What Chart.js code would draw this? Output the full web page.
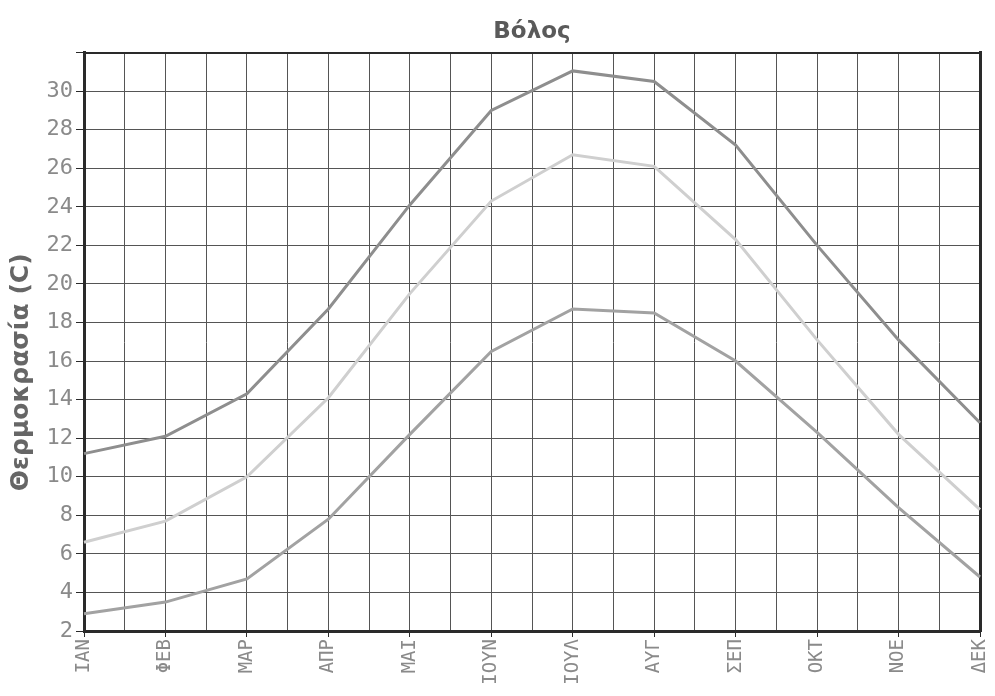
<!DOCTYPE html>
<html>
<head>
<meta charset="utf-8">
<script src="https://cdn.jsdelivr.net/npm/chart.js@4"></script>
<style>
  html, body { margin: 0; padding: 0; background: #ffffff; }
  #wrap { width: 995px; height: 696px; position: relative; }
</style>
</head>
<body>
<div id="wrap"><canvas id="c"></canvas></div>
<script>
const months = ["ΙΑΝ", "ΦΕΒ", "ΜΑΡ", "ΑΠΡ", "ΜΑΙ", "ΙΟΥΝ", "ΙΟΥΛ", "ΑΥΓ", "ΣΕΠ", "ΟΚΤ", "ΝΟΕ", "ΔΕΚ"];
const maxTemp  = [11.2, 12.1, 14.3, 18.7, 24.1, 29.0, 31.05, 30.5, 27.2, 22.0, 17.1, 12.8];
const meanTemp = [6.6, 7.7, 10.0, 14.1, 19.5, 24.3, 26.7, 26.1, 22.3, 17.1, 12.2, 8.3];
const minTemp  = [2.9, 3.5, 4.7, 7.8, 12.2, 16.5, 18.7, 18.5, 16.0, 12.3, 8.4, 4.8];
const titleText = "Βόλος";
const yTitle = "Θερμοκρασία (C)";

const gridColor = "#555555";
const axisColor = "#2a2a2a";
const tickColor = "#8a8a8a";

new Chart(document.getElementById("c"), {
  type: "line",
  data: {
    labels: months,
    datasets: [
      { label: "max", data: maxTemp, borderColor: "#8e8e8e", borderWidth: 3, pointRadius: 0, tension: 0, fill: false },
      { label: "mean", data: meanTemp, borderColor: "#cfcfcf", borderWidth: 3, pointRadius: 0, tension: 0, fill: false },
      { label: "min", data: minTemp, borderColor: "#a2a2a2", borderWidth: 3, pointRadius: 0, tension: 0, fill: false }
    ]
  },
  options: {
    responsive: true,
    maintainAspectRatio: false,
    animation: false,
    layout: { padding: { left: 0, right: 0, top: 0, bottom: 0 } },
    plugins: {
      legend: { display: false },
      tooltip: { enabled: false },
      title: {
        display: true,
        fullSize: false,
        text: titleText,
        color: "#5a5a5a",
        font: { family: "DejaVu Sans", size: 23, weight: "bold" },
        padding: { top: 18, bottom: 7 }
      }
    },
    scales: {
      x: {
        type: "category",
        position: "bottom",
        offset: false,
        grid: { display: true, color: gridColor, lineWidth: 1, drawOnChartArea: true, drawTicks: true, tickLength: 6, tickColor: axisColor },
        border: { display: true, color: axisColor, width: 3 },
        ticks: {
          color: tickColor,
          minRotation: 90,
          maxRotation: 90,
          autoSkip: false,
          padding: 2,
          font: { family: "DejaVu Sans Mono", size: 19 }
        },
        afterFit: (s) => { s.height = 65; s.paddingLeft = 0; s.paddingRight = 0; }
      },
      xh: {
        type: "linear",
        position: "top",
        min: 0,
        max: 22,
        grid: { display: true, color: gridColor, lineWidth: 1, drawTicks: false },
        border: { display: true, color: axisColor, width: 2 },
        ticks: { display: false, stepSize: 1 },
        afterFit: (s) => { s.height = 0; s.paddingLeft = 0; s.paddingRight = 0; }
      },
      y: {
        type: "linear",
        position: "left",
        min: 2,
        max: 32,
        grid: { display: true, color: gridColor, lineWidth: 1, drawTicks: true, tickLength: 8, tickColor: axisColor },
        border: { display: true, color: axisColor, width: 3 },
        ticks: {
          stepSize: 2,
          color: tickColor,
          padding: 3,
          font: { family: "DejaVu Sans Mono", size: 22 },
          callback: (v) => (v === 32 ? "" : String(v))
        },
        title: {
          display: true,
          text: yTitle + "\u00a0\u00a0\u00a0\u00a0\u00a0\u00a0\u00a0",
          color: "#666666",
          font: { family: "DejaVu Sans", size: 25, weight: "bold" },
          padding: { top: 6, bottom: 0 }
        },
        afterFit: (s) => { s.width = 84; }
      },
      yr: {
        type: "linear",
        position: "right",
        min: 2,
        max: 32,
        grid: { display: false, drawTicks: false },
        border: { display: true, color: axisColor, width: 3 },
        ticks: { display: false },
        afterFit: (s) => { s.width = 15; }
      }
    }
  }
});
</script>
</body>
</html>
